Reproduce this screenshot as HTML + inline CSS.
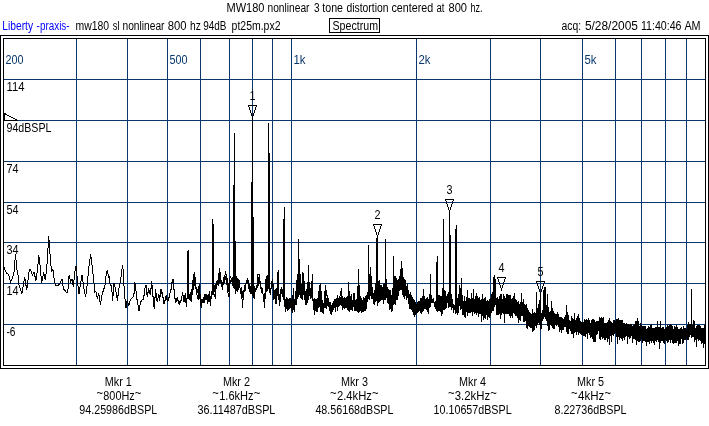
<!DOCTYPE html>
<html><head><meta charset="utf-8"><title>Spectrum</title>
<style>html,body{margin:0;padding:0;background:#fff;}body{width:709px;height:426px;overflow:hidden;position:relative;font-family:"Liberation Sans",sans-serif;}</style>
</head><body>
<svg width="709" height="426" viewBox="0 0 709 426" style="position:absolute;left:0;top:0;display:block;will-change:transform">
<rect x="0" y="0" width="709" height="426" fill="#fff"/>
<g shape-rendering="crispEdges" fill="none" stroke="#000" stroke-width="1">
<rect x="0.5" y="35.5" width="708" height="333"/>
<rect x="3.5" y="38.5" width="702" height="327"/>
</g>
<g shape-rendering="crispEdges" stroke="#0a386c" stroke-width="1">
<line x1="76.5" y1="39" x2="76.5" y2="365"/>
<line x1="127.5" y1="39" x2="127.5" y2="365"/>
<line x1="167.5" y1="39" x2="167.5" y2="365"/>
<line x1="200.5" y1="39" x2="200.5" y2="365"/>
<line x1="229.5" y1="39" x2="229.5" y2="365"/>
<line x1="252.5" y1="39" x2="252.5" y2="365"/>
<line x1="272.5" y1="39" x2="272.5" y2="365"/>
<line x1="291.5" y1="39" x2="291.5" y2="365"/>
<line x1="416.5" y1="39" x2="416.5" y2="365"/>
<line x1="490.5" y1="39" x2="490.5" y2="365"/>
<line x1="540.5" y1="39" x2="540.5" y2="365"/>
<line x1="582.5" y1="39" x2="582.5" y2="365"/>
<line x1="615.5" y1="39" x2="615.5" y2="365"/>
<line x1="641.5" y1="39" x2="641.5" y2="365"/>
<line x1="665.5" y1="39" x2="665.5" y2="365"/>
<line x1="686.5" y1="39" x2="686.5" y2="365"/>
<line x1="4" y1="79.5" x2="705" y2="79.5"/>
<line x1="4" y1="120.5" x2="705" y2="120.5"/>
<line x1="4" y1="161.5" x2="705" y2="161.5"/>
<line x1="4" y1="202.5" x2="705" y2="202.5"/>
<line x1="4" y1="242.5" x2="705" y2="242.5"/>
<line x1="4" y1="283.5" x2="705" y2="283.5"/>
<line x1="4" y1="324.5" x2="705" y2="324.5"/>
</g>
<path d="M4.5,113.5 L4.5,120.5 L17.5,120.5 Z" fill="none" stroke="#000" stroke-width="1" shape-rendering="crispEdges"/>
<g fill="none" stroke="#000" stroke-width="1" shape-rendering="crispEdges" stroke-linejoin="miter">
<path d="M4.0,267.1 L6.3,272.8 L8.5,274.2 L10.6,282.3 L12.0,279.1 L14.1,272.1 L15.5,253.7 L16.9,269.3 L18.3,276.3 L19.0,284.8 L21.9,293.7 L24.7,277.5 L26.8,290.2 L29.3,270.0 L30.3,269.3 L32.4,274.9 L33.9,272.0 L36.0,280.5 L37.4,270.7 L38.8,255.2 L40.2,266.4 L41.6,283.0 L43.7,272.0 L45.4,280.4 L47.2,262.2 L48.7,236.1 L50.1,255.2 L51.5,271.3 L52.9,269.2 L54.3,280.0 L55.7,285.7 L57.8,286.0 L60.0,283.0 L62.0,279.0 L63.5,288.9 L67.0,293.0 L68.4,287.5 L69.1,274.8 L70.5,281.8 L72.0,279.0 L73.3,286.8 L74.8,272.0 L76.2,265.6 L77.4,280.4 L79.0,294.0 L80.4,284.0 L82.1,274.8 L83.4,285.5 L85.6,297.0 L87.2,284.0 L88.9,267.0 L90.7,254.5 L92.4,268.5 L93.8,281.0 L94.8,292.3 L95.9,291.0 L97.3,299.0 L98.7,293.0 L100.4,304.9 L102.1,294.3 L103.5,290.1 L104.9,285.9 L106.3,273.9 L107.4,269.6 L108.4,277.4 L109.1,276.7 L110.2,285.9 L111.6,285.1 L112.6,301.4 L114.0,283.0 L115.5,288.7 L117.6,301.4 L118.3,291.5 L120.4,281.6 L121.8,270.3 L122.8,265.4 L123.9,284.4 L124.9,298.5 L126.0,307.7 L127.2,300.0 L128.8,305.6 L130.3,300.0 L132.4,297.8 L133.8,295.7 L134.9,282.3 L136.2,292.9 L137.3,301.4 L139.0,310.5 L140.4,302.8 L142.2,300.0 L143.7,298.5 L144.6,288.7 L146.1,285.1 L147.2,297.1 L148.6,288.7 L150.3,294.3 L151.7,281.6 L152.8,294.3 L154.2,308.4 L155.6,290.1 L157.1,301.4 L158.8,294.3 L159.6,300.0 L161.0,289.4 L162.4,294.3 L164.1,303.5 L166.2,295.7 L167.6,302.1 L169.0,297.1 L171.2,288.7 L172.3,280.2 L173.3,279.5 L174.3,292.9 L175.4,302.1 L177.5,298.5 L179.3,304.2 L181.0,300.0 L182.7,292.9 L183.9,301.4 L185.3,294.3 L186.4,306.3 L187.2,296.0 L187.5,296.0 L188.5,297.0 L189.2,298.5 L191.3,300.7 L192.0,288.7 L193.5,275.3 L194.6,273.2 L195.6,282.3 L196.3,292.9 L198.4,300.0 L199.1,283.7 L199.8,297.1 L201.2,307.7 L202.6,300.0 L204.0,302.8 L206.2,293.6 L207.6,304.2 L209.0,294.3 L210.4,305.6 L211.8,291.5 L212.5,292.0 L213.9,294.3 L215.3,297.1 L216.7,281.6 L218.1,280.2 L219.6,268.2 L221.0,280.2 L222.4,289.4 L223.8,280.2 L225.6,272.5 L227.0,277.4 L228.0,292.9 L229.0,297.1 L230.1,276.7 L232.2,280.2 L233.2,287.3 L234.5,286.0 L235.8,294.3 L236.9,276.0 L237.9,291.5 L239.0,279.5 L240.3,290.1 L241.4,287.3 L242.5,307.7 L243.5,292.9 L244.9,285.9 L246.4,281.6 L247.8,278.1 L248.8,287.3 L250.6,292.9 L252.5,292.0 L254.1,298.5 L255.5,288.7 L256.9,290.1 L257.6,274.6 L259.0,273.9 L260.5,288.7 L261.9,287.3 L263.3,295.7 L264.7,308.4 L265.7,280.2 L267.1,275.3 L268.0,285.9 L269.0,288.0 L270.3,294.3 L271.7,284.4 L272.7,278.8 L273.9,300.0 L275.3,288.7 L276.7,304.2 L278.1,269.6 L279.2,306.3 L280.9,290.1 L281.4,287.0 L282.8,296.9 L284.0,298.0 L285.6,312.4 L287.1,298.3 L288.5,309.6 L289.9,297.6 L292.0,311.0 L293.4,288.4 L294.4,311.0 L295.5,296.9 L296.9,281.4 L297.6,275.0 L298.5,272.0 L299.9,272.0 L301.2,298.3 L302.6,272.9 L303.7,273.6 L304.7,298.3 L306.1,305.4 L307.5,284.2 L308.5,280.0 L309.6,284.2 L311.0,298.3 L312.4,274.3 L313.1,302.5 L314.6,315.2 L316.0,302.5 L318.1,298.3 L319.5,287.0 L320.6,283.5 L321.6,302.5 L323.7,313.8 L325.4,284.9 L326.5,294.1 L328.0,298.3 L329.4,309.6 L331.5,315.2 L332.9,305.4 L334.7,299.7 L335.7,308.2 L337.5,294.8 L338.5,306.8 L339.9,296.9 L341.4,288.4 L342.8,305.4 L344.2,296.9 L345.6,308.2 L346.3,298.3 L347.4,309.6 L348.7,282.1 L349.8,312.4 L351.2,294.1 L352.6,308.2 L354.0,293.4 L356.2,311.0 L357.6,298.3 L358.6,269.4 L359.7,312.4 L361.1,298.3 L362.5,311.0 L363.2,296.9 L364.6,309.6 L366.3,296.9 L367.7,294.1 L368.5,290.0 L369.2,292.0 L370.3,267.3 L371.7,284.2 L373.1,295.5 L374.2,305.4 L375.2,296.9 L376.0,283.0"/>
<line x1="130.5" y1="299.1" x2="130.5" y2="301.2"/>
<line x1="131.5" y1="297.8" x2="131.5" y2="299.3"/>
<line x1="132.5" y1="296.6" x2="132.5" y2="298.4"/>
<line x1="133.5" y1="293.2" x2="133.5" y2="297.2"/>
<line x1="134.5" y1="282.3" x2="134.5" y2="293.5"/>
<line x1="135.5" y1="283.1" x2="135.5" y2="291.3"/>
<line x1="136.5" y1="291.0" x2="136.5" y2="299.6"/>
<line x1="137.5" y1="299.0" x2="137.5" y2="305.3"/>
<line x1="138.5" y1="304.7" x2="138.5" y2="311.2"/>
<line x1="139.5" y1="304.6" x2="139.5" y2="310.8"/>
<line x1="140.5" y1="301.2" x2="140.5" y2="305.0"/>
<line x1="141.5" y1="299.7" x2="141.5" y2="302.1"/>
<line x1="142.5" y1="299.1" x2="142.5" y2="300.4"/>
<line x1="143.5" y1="295.0" x2="143.5" y2="299.8"/>
<line x1="144.5" y1="287.6" x2="144.5" y2="295.7"/>
<line x1="145.5" y1="284.8" x2="145.5" y2="288.0"/>
<line x1="146.5" y1="284.7" x2="146.5" y2="295.0"/>
<line x1="147.5" y1="292.3" x2="147.5" y2="297.3"/>
<line x1="148.5" y1="288.1" x2="148.5" y2="292.7"/>
<line x1="149.5" y1="289.8" x2="149.5" y2="293.8"/>
<line x1="150.5" y1="287.6" x2="150.5" y2="294.6"/>
<line x1="151.5" y1="280.9" x2="151.5" y2="288.6"/>
<line x1="152.5" y1="284.8" x2="152.5" y2="296.8"/>
<line x1="153.5" y1="295.8" x2="153.5" y2="307.2"/>
<line x1="154.5" y1="297.3" x2="154.5" y2="308.7"/>
<line x1="155.5" y1="289.2" x2="155.5" y2="298.1"/>
<line x1="156.5" y1="292.7" x2="156.5" y2="301.4"/>
<line x1="157.5" y1="297.5" x2="157.5" y2="301.9"/>
<line x1="158.5" y1="294.3" x2="158.5" y2="298.3"/>
<line x1="159.5" y1="295.0" x2="159.5" y2="300.6"/>
<line x1="160.5" y1="288.5" x2="160.5" y2="297.3"/>
<line x1="161.5" y1="288.7" x2="161.5" y2="293.5"/>
<line x1="162.5" y1="292.3" x2="162.5" y2="298.0"/>
<line x1="163.5" y1="296.7" x2="163.5" y2="303.9"/>
<line x1="164.5" y1="299.7" x2="164.5" y2="304.2"/>
<line x1="165.5" y1="296.4" x2="165.5" y2="300.9"/>
<line x1="166.5" y1="295.0" x2="166.5" y2="300.4"/>
<line x1="167.5" y1="298.5" x2="167.5" y2="302.4"/>
<line x1="168.5" y1="296.7" x2="168.5" y2="301.4"/>
<line x1="169.5" y1="293.3" x2="169.5" y2="297.6"/>
<line x1="170.5" y1="289.3" x2="170.5" y2="293.4"/>
<line x1="171.5" y1="282.5" x2="171.5" y2="290.3"/>
<line x1="172.5" y1="279.6" x2="172.5" y2="282.8"/>
<line x1="173.5" y1="279.0" x2="173.5" y2="289.9"/>
<line x1="174.5" y1="288.8" x2="174.5" y2="299.3"/>
<line x1="175.5" y1="298.1" x2="175.5" y2="303.1"/>
<line x1="176.5" y1="298.4" x2="176.5" y2="302.1"/>
<line x1="177.5" y1="298.2" x2="177.5" y2="300.6"/>
<line x1="178.5" y1="299.6" x2="178.5" y2="304.3"/>
<line x1="179.5" y1="301.3" x2="179.5" y2="304.4"/>
<line x1="180.5" y1="299.8" x2="180.5" y2="302.8"/>
<line x1="181.5" y1="295.5" x2="181.5" y2="300.6"/>
<line x1="182.5" y1="292.2" x2="182.5" y2="296.2"/>
<line x1="183.5" y1="295.0" x2="183.5" y2="301.9"/>
<line x1="184.5" y1="295.3" x2="184.5" y2="301.6"/>
<line x1="185.5" y1="293.1" x2="185.5" y2="302.8"/>
<line x1="186.5" y1="297.9" x2="186.5" y2="307.1"/>
<line x1="187.5" y1="295.1" x2="187.5" y2="298.6"/>
<line x1="188.5" y1="295.3" x2="188.5" y2="299.1"/>
<line x1="189.5" y1="293.8" x2="189.5" y2="298.3"/>
<line x1="190.5" y1="291.8" x2="190.5" y2="300.8"/>
<line x1="191.5" y1="291.1" x2="191.5" y2="300.0"/>
<line x1="192.5" y1="286.2" x2="192.5" y2="294.8"/>
<line x1="193.5" y1="280.0" x2="193.5" y2="289.9"/>
<line x1="194.5" y1="275.6" x2="194.5" y2="285.9"/>
<line x1="195.5" y1="281.4" x2="195.5" y2="288.5"/>
<line x1="196.5" y1="286.8" x2="196.5" y2="294.8"/>
<line x1="197.5" y1="288.6" x2="197.5" y2="293.3"/>
<line x1="198.5" y1="289.1" x2="198.5" y2="300.0"/>
<line x1="199.5" y1="293.3" x2="199.5" y2="295.3"/>
<line x1="200.5" y1="293.9" x2="200.5" y2="298.8"/>
<line x1="201.5" y1="298.8" x2="201.5" y2="306.4"/>
<line x1="202.5" y1="301.3" x2="202.5" y2="303.3"/>
<line x1="203.5" y1="297.1" x2="203.5" y2="302.2"/>
<line x1="204.5" y1="294.4" x2="204.5" y2="302.0"/>
<line x1="205.5" y1="297.6" x2="205.5" y2="299.9"/>
<line x1="206.5" y1="297.4" x2="206.5" y2="300.2"/>
<line x1="207.5" y1="295.0" x2="207.5" y2="302.7"/>
<line x1="208.5" y1="298.2" x2="208.5" y2="302.0"/>
<line x1="209.5" y1="290.9" x2="209.5" y2="300.4"/>
<line x1="210.5" y1="295.7" x2="210.5" y2="300.8"/>
<line x1="211.5" y1="292.6" x2="211.5" y2="297.2"/>
<line x1="212.5" y1="290.8" x2="212.5" y2="293.3"/>
<line x1="213.5" y1="287.2" x2="213.5" y2="295.4"/>
<line x1="214.5" y1="285.0" x2="214.5" y2="291.7"/>
<line x1="215.5" y1="284.1" x2="215.5" y2="292.1"/>
<line x1="216.5" y1="286.5" x2="216.5" y2="289.1"/>
<line x1="217.5" y1="280.1" x2="217.5" y2="285.0"/>
<line x1="218.5" y1="276.7" x2="218.5" y2="286.3"/>
<line x1="219.5" y1="270.7" x2="219.5" y2="281.6"/>
<line x1="220.5" y1="272.5" x2="220.5" y2="282.6"/>
<line x1="221.5" y1="280.6" x2="221.5" y2="283.9"/>
<line x1="222.5" y1="281.6" x2="222.5" y2="289.6"/>
<line x1="223.5" y1="277.1" x2="223.5" y2="283.5"/>
<line x1="224.5" y1="279.1" x2="224.5" y2="283.0"/>
<line x1="225.5" y1="275.8" x2="225.5" y2="280.2"/>
<line x1="226.5" y1="274.6" x2="226.5" y2="284.6"/>
<line x1="227.5" y1="279.1" x2="227.5" y2="284.6"/>
<line x1="228.5" y1="283.3" x2="228.5" y2="291.9"/>
<line x1="229.5" y1="280.8" x2="229.5" y2="287.5"/>
<line x1="230.5" y1="279.9" x2="230.5" y2="282.6"/>
<line x1="231.5" y1="278.8" x2="231.5" y2="282.1"/>
<line x1="232.5" y1="276.8" x2="232.5" y2="285.2"/>
<line x1="233.5" y1="276.9" x2="233.5" y2="284.3"/>
<line x1="234.5" y1="277.4" x2="234.5" y2="284.4"/>
<line x1="235.5" y1="282.8" x2="235.5" y2="284.8"/>
<line x1="236.5" y1="280.6" x2="236.5" y2="289.5"/>
<line x1="237.5" y1="282.7" x2="237.5" y2="288.9"/>
<line x1="238.5" y1="281.1" x2="238.5" y2="287.1"/>
<line x1="239.5" y1="283.5" x2="239.5" y2="288.3"/>
<line x1="240.5" y1="288.4" x2="240.5" y2="293.7"/>
<line x1="241.5" y1="291.5" x2="241.5" y2="293.5"/>
<line x1="242.5" y1="291.3" x2="242.5" y2="298.4"/>
<line x1="243.5" y1="293.2" x2="243.5" y2="297.8"/>
<line x1="244.5" y1="287.7" x2="244.5" y2="291.7"/>
<line x1="245.5" y1="282.8" x2="245.5" y2="290.5"/>
<line x1="246.5" y1="279.5" x2="246.5" y2="283.8"/>
<line x1="247.5" y1="279.4" x2="247.5" y2="284.2"/>
<line x1="248.5" y1="283.0" x2="248.5" y2="288.8"/>
<line x1="249.5" y1="284.4" x2="249.5" y2="291.7"/>
<line x1="250.5" y1="285.9" x2="250.5" y2="293.6"/>
<line x1="251.5" y1="286.9" x2="251.5" y2="294.1"/>
<line x1="252.5" y1="287.9" x2="252.5" y2="295.9"/>
<line x1="253.5" y1="286.6" x2="253.5" y2="298.1"/>
<line x1="254.5" y1="285.8" x2="254.5" y2="294.6"/>
<line x1="255.5" y1="288.5" x2="255.5" y2="292.3"/>
<line x1="256.5" y1="285.3" x2="256.5" y2="289.7"/>
<line x1="257.5" y1="279.1" x2="257.5" y2="285.2"/>
<line x1="258.5" y1="276.8" x2="258.5" y2="286.1"/>
<line x1="259.5" y1="274.3" x2="259.5" y2="282.3"/>
<line x1="260.5" y1="280.5" x2="260.5" y2="285.9"/>
<line x1="261.5" y1="288.1" x2="261.5" y2="292.5"/>
<line x1="262.5" y1="288.6" x2="262.5" y2="293.5"/>
<line x1="263.5" y1="294.5" x2="263.5" y2="298.0"/>
<line x1="264.5" y1="293.4" x2="264.5" y2="304.9"/>
<line x1="265.5" y1="286.2" x2="265.5" y2="295.6"/>
<line x1="266.5" y1="277.2" x2="266.5" y2="291.5"/>
<line x1="267.5" y1="275.5" x2="267.5" y2="291.2"/>
<line x1="268.5" y1="280.1" x2="268.5" y2="288.2"/>
<line x1="269.5" y1="283.5" x2="269.5" y2="288.2"/>
<line x1="270.5" y1="287.7" x2="270.5" y2="295.0"/>
<line x1="271.5" y1="281.0" x2="271.5" y2="289.4"/>
<line x1="272.5" y1="282.2" x2="272.5" y2="286.6"/>
<line x1="273.5" y1="285.4" x2="273.5" y2="291.7"/>
<line x1="274.5" y1="290.4" x2="274.5" y2="296.6"/>
<line x1="275.5" y1="289.3" x2="275.5" y2="303.8"/>
<line x1="276.5" y1="288.1" x2="276.5" y2="297.7"/>
<line x1="277.5" y1="288.4" x2="277.5" y2="295.1"/>
<line x1="278.5" y1="287.0" x2="278.5" y2="294.4"/>
<line x1="279.5" y1="293.8" x2="279.5" y2="305.5"/>
<line x1="280.5" y1="288.6" x2="280.5" y2="301.6"/>
<line x1="281.5" y1="290.5" x2="281.5" y2="294.3"/>
<line x1="282.5" y1="289.0" x2="282.5" y2="295.9"/>
<line x1="283.5" y1="292.6" x2="283.5" y2="300.2"/>
<line x1="284.5" y1="299.6" x2="284.5" y2="305.8"/>
<line x1="285.5" y1="298.7" x2="285.5" y2="308.6"/>
<line x1="286.5" y1="296.6" x2="286.5" y2="309.2"/>
<line x1="287.5" y1="299.0" x2="287.5" y2="310.7"/>
<line x1="288.5" y1="298.9" x2="288.5" y2="307.7"/>
<line x1="289.5" y1="298.2" x2="289.5" y2="309.1"/>
<line x1="290.5" y1="297.9" x2="290.5" y2="307.6"/>
<line x1="291.5" y1="299.4" x2="291.5" y2="308.4"/>
<line x1="292.5" y1="299.5" x2="292.5" y2="312.6"/>
<line x1="293.5" y1="288.7" x2="293.5" y2="310.0"/>
<line x1="294.5" y1="298.7" x2="294.5" y2="312.4"/>
<line x1="295.5" y1="297.2" x2="295.5" y2="304.9"/>
<line x1="296.5" y1="285.2" x2="296.5" y2="305.0"/>
<line x1="297.5" y1="275.3" x2="297.5" y2="299.4"/>
<line x1="298.5" y1="269.1" x2="298.5" y2="297.4"/>
<line x1="299.5" y1="273.7" x2="299.5" y2="295.4"/>
<line x1="300.5" y1="279.8" x2="300.5" y2="297.5"/>
<line x1="301.5" y1="283.9" x2="301.5" y2="298.7"/>
<line x1="302.5" y1="272.9" x2="302.5" y2="299.7"/>
<line x1="303.5" y1="274.0" x2="303.5" y2="294.9"/>
<line x1="304.5" y1="282.9" x2="304.5" y2="297.5"/>
<line x1="305.5" y1="290.6" x2="305.5" y2="300.5"/>
<line x1="306.5" y1="288.8" x2="306.5" y2="302.7"/>
<line x1="307.5" y1="284.0" x2="307.5" y2="302.5"/>
<line x1="308.5" y1="266.7" x2="308.5" y2="300.3"/>
<line x1="309.5" y1="285.2" x2="309.5" y2="296.3"/>
<line x1="310.5" y1="290.1" x2="310.5" y2="299.0"/>
<line x1="311.5" y1="289.3" x2="311.5" y2="297.8"/>
<line x1="312.5" y1="277.4" x2="312.5" y2="301.0"/>
<line x1="313.5" y1="299.5" x2="313.5" y2="306.7"/>
<line x1="314.5" y1="298.1" x2="314.5" y2="313.3"/>
<line x1="315.5" y1="299.0" x2="315.5" y2="309.3"/>
<line x1="316.5" y1="298.5" x2="316.5" y2="311.9"/>
<line x1="317.5" y1="298.4" x2="317.5" y2="311.9"/>
<line x1="318.5" y1="297.2" x2="318.5" y2="307.9"/>
<line x1="319.5" y1="287.5" x2="319.5" y2="307.2"/>
<line x1="320.5" y1="283.8" x2="320.5" y2="311.7"/>
<line x1="321.5" y1="299.5" x2="321.5" y2="311.5"/>
<line x1="322.5" y1="300.1" x2="322.5" y2="312.9"/>
<line x1="323.5" y1="302.9" x2="323.5" y2="312.9"/>
<line x1="324.5" y1="299.7" x2="324.5" y2="308.3"/>
<line x1="325.5" y1="288.5" x2="325.5" y2="308.0"/>
<line x1="326.5" y1="297.5" x2="326.5" y2="309.0"/>
<line x1="327.5" y1="297.2" x2="327.5" y2="305.8"/>
<line x1="328.5" y1="301.8" x2="328.5" y2="307.3"/>
<line x1="329.5" y1="302.4" x2="329.5" y2="310.5"/>
<line x1="330.5" y1="302.2" x2="330.5" y2="314.2"/>
<line x1="331.5" y1="305.4" x2="331.5" y2="313.1"/>
<line x1="332.5" y1="302.7" x2="332.5" y2="310.4"/>
<line x1="333.5" y1="301.3" x2="333.5" y2="309.5"/>
<line x1="334.5" y1="299.0" x2="334.5" y2="307.8"/>
<line x1="335.5" y1="299.3" x2="335.5" y2="311.6"/>
<line x1="336.5" y1="299.3" x2="336.5" y2="307.4"/>
<line x1="337.5" y1="296.9" x2="337.5" y2="311.3"/>
<line x1="338.5" y1="298.2" x2="338.5" y2="306.3"/>
<line x1="339.5" y1="296.9" x2="339.5" y2="305.7"/>
<line x1="340.5" y1="297.1" x2="340.5" y2="305.3"/>
<line x1="341.5" y1="289.6" x2="341.5" y2="306.0"/>
<line x1="342.5" y1="297.9" x2="342.5" y2="310.2"/>
<line x1="343.5" y1="298.8" x2="343.5" y2="307.9"/>
<line x1="344.5" y1="297.8" x2="344.5" y2="308.7"/>
<line x1="345.5" y1="298.0" x2="345.5" y2="307.8"/>
<line x1="346.5" y1="296.9" x2="346.5" y2="308.0"/>
<line x1="347.5" y1="299.8" x2="347.5" y2="307.8"/>
<line x1="348.5" y1="288.6" x2="348.5" y2="311.3"/>
<line x1="349.5" y1="298.8" x2="349.5" y2="309.9"/>
<line x1="350.5" y1="295.9" x2="350.5" y2="309.7"/>
<line x1="351.5" y1="296.4" x2="351.5" y2="309.9"/>
<line x1="352.5" y1="299.7" x2="352.5" y2="311.3"/>
<line x1="353.5" y1="299.0" x2="353.5" y2="307.0"/>
<line x1="354.5" y1="295.6" x2="354.5" y2="311.3"/>
<line x1="355.5" y1="299.7" x2="355.5" y2="310.5"/>
<line x1="356.5" y1="298.9" x2="356.5" y2="308.0"/>
<line x1="357.5" y1="298.3" x2="357.5" y2="312.4"/>
<line x1="358.5" y1="276.1" x2="358.5" y2="312.7"/>
<line x1="359.5" y1="297.2" x2="359.5" y2="311.5"/>
<line x1="360.5" y1="295.9" x2="360.5" y2="310.6"/>
<line x1="361.5" y1="298.7" x2="361.5" y2="312.6"/>
<line x1="362.5" y1="300.0" x2="362.5" y2="312.0"/>
<line x1="363.5" y1="298.5" x2="363.5" y2="312.0"/>
<line x1="364.5" y1="297.6" x2="364.5" y2="310.6"/>
<line x1="365.5" y1="295.8" x2="365.5" y2="310.5"/>
<line x1="366.5" y1="296.0" x2="366.5" y2="308.9"/>
<line x1="367.5" y1="295.6" x2="367.5" y2="302.2"/>
<line x1="368.5" y1="284.0" x2="368.5" y2="299.2"/>
<line x1="369.5" y1="281.2" x2="369.5" y2="299.8"/>
<line x1="370.5" y1="268.7" x2="370.5" y2="295.4"/>
<line x1="371.5" y1="282.4" x2="371.5" y2="298.9"/>
<line x1="372.5" y1="288.7" x2="372.5" y2="299.2"/>
<line x1="373.5" y1="292.5" x2="373.5" y2="300.3"/>
<line x1="374.5" y1="290.4" x2="374.5" y2="303.5"/>
<line x1="375.5" y1="289.7" x2="375.5" y2="301.5"/>
<line x1="376.5" y1="285.0" x2="376.5" y2="300.9"/>
<line x1="377.5" y1="284.3" x2="377.5" y2="306.0"/>
<line x1="378.5" y1="281.0" x2="378.5" y2="302.6"/>
<line x1="379.5" y1="280.3" x2="379.5" y2="301.6"/>
<line x1="380.5" y1="284.6" x2="380.5" y2="300.5"/>
<line x1="381.5" y1="285.3" x2="381.5" y2="300.0"/>
<line x1="382.5" y1="286.7" x2="382.5" y2="300.2"/>
<line x1="383.5" y1="284.1" x2="383.5" y2="303.5"/>
<line x1="384.5" y1="283.3" x2="384.5" y2="300.3"/>
<line x1="385.5" y1="282.4" x2="385.5" y2="299.7"/>
<line x1="386.5" y1="279.4" x2="386.5" y2="297.5"/>
<line x1="387.5" y1="287.2" x2="387.5" y2="302.7"/>
<line x1="388.5" y1="289.2" x2="388.5" y2="303.9"/>
<line x1="389.5" y1="290.3" x2="389.5" y2="309.5"/>
<line x1="390.5" y1="289.9" x2="390.5" y2="309.4"/>
<line x1="391.5" y1="295.3" x2="391.5" y2="311.6"/>
<line x1="392.5" y1="287.5" x2="392.5" y2="311.1"/>
<line x1="393.5" y1="280.9" x2="393.5" y2="305.4"/>
<line x1="394.5" y1="276.4" x2="394.5" y2="303.6"/>
<line x1="395.5" y1="276.3" x2="395.5" y2="304.7"/>
<line x1="396.5" y1="277.8" x2="396.5" y2="299.5"/>
<line x1="397.5" y1="280.2" x2="397.5" y2="299.8"/>
<line x1="398.5" y1="278.8" x2="398.5" y2="295.5"/>
<line x1="399.5" y1="276.3" x2="399.5" y2="290.8"/>
<line x1="400.5" y1="269.2" x2="400.5" y2="289.5"/>
<line x1="401.5" y1="261.4" x2="401.5" y2="290.1"/>
<line x1="402.5" y1="268.3" x2="402.5" y2="295.3"/>
<line x1="403.5" y1="277.1" x2="403.5" y2="296.8"/>
<line x1="404.5" y1="278.5" x2="404.5" y2="299.2"/>
<line x1="405.5" y1="279.9" x2="405.5" y2="296.1"/>
<line x1="406.5" y1="286.3" x2="406.5" y2="299.7"/>
<line x1="407.5" y1="284.4" x2="407.5" y2="298.2"/>
<line x1="408.5" y1="290.0" x2="408.5" y2="304.4"/>
<line x1="409.5" y1="293.7" x2="409.5" y2="309.2"/>
<line x1="410.5" y1="292.4" x2="410.5" y2="308.7"/>
<line x1="411.5" y1="295.2" x2="411.5" y2="309.9"/>
<line x1="412.5" y1="296.6" x2="412.5" y2="311.5"/>
<line x1="413.5" y1="298.9" x2="413.5" y2="315.0"/>
<line x1="414.5" y1="300.2" x2="414.5" y2="317.0"/>
<line x1="415.5" y1="301.5" x2="415.5" y2="315.4"/>
<line x1="416.5" y1="303.5" x2="416.5" y2="313.7"/>
<line x1="417.5" y1="302.2" x2="417.5" y2="312.7"/>
<line x1="418.5" y1="300.9" x2="418.5" y2="311.6"/>
<line x1="419.5" y1="301.3" x2="419.5" y2="310.5"/>
<line x1="420.5" y1="298.0" x2="420.5" y2="312.5"/>
<line x1="421.5" y1="297.7" x2="421.5" y2="313.7"/>
<line x1="422.5" y1="295.7" x2="422.5" y2="311.7"/>
<line x1="423.5" y1="291.6" x2="423.5" y2="310.5"/>
<line x1="424.5" y1="295.5" x2="424.5" y2="309.4"/>
<line x1="425.5" y1="298.6" x2="425.5" y2="308.8"/>
<line x1="426.5" y1="297.6" x2="426.5" y2="309.9"/>
<line x1="427.5" y1="296.7" x2="427.5" y2="312.3"/>
<line x1="428.5" y1="298.7" x2="428.5" y2="314.0"/>
<line x1="429.5" y1="293.8" x2="429.5" y2="308.0"/>
<line x1="430.5" y1="284.7" x2="430.5" y2="307.0"/>
<line x1="431.5" y1="294.9" x2="431.5" y2="303.1"/>
<line x1="432.5" y1="298.8" x2="432.5" y2="302.8"/>
<line x1="433.5" y1="298.3" x2="433.5" y2="302.7"/>
<line x1="434.5" y1="302.2" x2="434.5" y2="306.5"/>
<line x1="435.5" y1="301.0" x2="435.5" y2="309.2"/>
<line x1="436.5" y1="293.4" x2="436.5" y2="311.1"/>
<line x1="437.5" y1="296.3" x2="437.5" y2="312.2"/>
<line x1="438.5" y1="295.2" x2="438.5" y2="310.7"/>
<line x1="439.5" y1="294.7" x2="439.5" y2="310.9"/>
<line x1="440.5" y1="295.8" x2="440.5" y2="312.4"/>
<line x1="441.5" y1="296.4" x2="441.5" y2="315.5"/>
<line x1="442.5" y1="287.8" x2="442.5" y2="313.9"/>
<line x1="443.5" y1="290.8" x2="443.5" y2="309.9"/>
<line x1="444.5" y1="289.9" x2="444.5" y2="310.3"/>
<line x1="445.5" y1="291.4" x2="445.5" y2="308.8"/>
<line x1="446.5" y1="295.9" x2="446.5" y2="308.1"/>
<line x1="447.5" y1="293.6" x2="447.5" y2="303.3"/>
<line x1="448.5" y1="291.8" x2="448.5" y2="308.1"/>
<line x1="449.5" y1="292.5" x2="449.5" y2="307.2"/>
<line x1="450.5" y1="293.1" x2="450.5" y2="307.0"/>
<line x1="451.5" y1="294.2" x2="451.5" y2="309.8"/>
<line x1="452.5" y1="299.4" x2="452.5" y2="307.7"/>
<line x1="453.5" y1="303.6" x2="453.5" y2="312.8"/>
<line x1="454.5" y1="304.6" x2="454.5" y2="309.6"/>
<line x1="455.5" y1="299.8" x2="455.5" y2="314.2"/>
<line x1="456.5" y1="298.5" x2="456.5" y2="312.8"/>
<line x1="457.5" y1="297.8" x2="457.5" y2="315.3"/>
<line x1="458.5" y1="293.7" x2="458.5" y2="312.7"/>
<line x1="459.5" y1="284.9" x2="459.5" y2="305.9"/>
<line x1="460.5" y1="288.0" x2="460.5" y2="309.5"/>
<line x1="461.5" y1="279.9" x2="461.5" y2="308.8"/>
<line x1="462.5" y1="294.8" x2="462.5" y2="315.4"/>
<line x1="463.5" y1="300.8" x2="463.5" y2="314.8"/>
<line x1="464.5" y1="296.0" x2="464.5" y2="316.7"/>
<line x1="465.5" y1="301.4" x2="465.5" y2="317.5"/>
<line x1="466.5" y1="297.0" x2="466.5" y2="311.9"/>
<line x1="467.5" y1="291.6" x2="467.5" y2="315.9"/>
<line x1="468.5" y1="298.1" x2="468.5" y2="313.1"/>
<line x1="469.5" y1="298.4" x2="469.5" y2="313.1"/>
<line x1="470.5" y1="299.0" x2="470.5" y2="313.0"/>
<line x1="471.5" y1="293.0" x2="471.5" y2="311.7"/>
<line x1="472.5" y1="297.9" x2="472.5" y2="316.2"/>
<line x1="473.5" y1="289.5" x2="473.5" y2="312.2"/>
<line x1="474.5" y1="299.2" x2="474.5" y2="313.8"/>
<line x1="475.5" y1="296.0" x2="475.5" y2="313.2"/>
<line x1="476.5" y1="292.9" x2="476.5" y2="315.4"/>
<line x1="477.5" y1="295.8" x2="477.5" y2="313.2"/>
<line x1="478.5" y1="298.2" x2="478.5" y2="316.8"/>
<line x1="479.5" y1="297.4" x2="479.5" y2="313.5"/>
<line x1="480.5" y1="299.9" x2="480.5" y2="313.8"/>
<line x1="481.5" y1="298.8" x2="481.5" y2="322.2"/>
<line x1="482.5" y1="294.1" x2="482.5" y2="315.7"/>
<line x1="483.5" y1="298.5" x2="483.5" y2="319.7"/>
<line x1="484.5" y1="297.8" x2="484.5" y2="317.9"/>
<line x1="485.5" y1="297.2" x2="485.5" y2="318.5"/>
<line x1="486.5" y1="300.6" x2="486.5" y2="315.1"/>
<line x1="487.5" y1="300.2" x2="487.5" y2="319.7"/>
<line x1="488.5" y1="300.5" x2="488.5" y2="316.6"/>
<line x1="489.5" y1="299.0" x2="489.5" y2="317.5"/>
<line x1="490.5" y1="298.1" x2="490.5" y2="316.2"/>
<line x1="491.5" y1="294.0" x2="491.5" y2="313.1"/>
<line x1="492.5" y1="292.4" x2="492.5" y2="311.2"/>
<line x1="493.5" y1="277.2" x2="493.5" y2="310.7"/>
<line x1="494.5" y1="274.5" x2="494.5" y2="307.0"/>
<line x1="495.5" y1="285.6" x2="495.5" y2="304.6"/>
<line x1="496.5" y1="298.2" x2="496.5" y2="315.0"/>
<line x1="497.5" y1="297.1" x2="497.5" y2="315.3"/>
<line x1="498.5" y1="298.8" x2="498.5" y2="315.1"/>
<line x1="499.5" y1="296.1" x2="499.5" y2="314.4"/>
<line x1="500.5" y1="293.9" x2="500.5" y2="318.9"/>
<line x1="501.5" y1="294.3" x2="501.5" y2="314.6"/>
<line x1="502.5" y1="299.1" x2="502.5" y2="312.5"/>
<line x1="503.5" y1="294.4" x2="503.5" y2="314.1"/>
<line x1="504.5" y1="295.6" x2="504.5" y2="323.0"/>
<line x1="505.5" y1="297.9" x2="505.5" y2="313.5"/>
<line x1="506.5" y1="294.0" x2="506.5" y2="313.5"/>
<line x1="507.5" y1="294.0" x2="507.5" y2="314.0"/>
<line x1="508.5" y1="294.8" x2="508.5" y2="313.6"/>
<line x1="509.5" y1="295.2" x2="509.5" y2="316.0"/>
<line x1="510.5" y1="294.6" x2="510.5" y2="317.8"/>
<line x1="511.5" y1="298.6" x2="511.5" y2="315.5"/>
<line x1="512.5" y1="297.8" x2="512.5" y2="317.9"/>
<line x1="513.5" y1="296.1" x2="513.5" y2="312.9"/>
<line x1="514.5" y1="293.3" x2="514.5" y2="314.4"/>
<line x1="515.5" y1="298.6" x2="515.5" y2="316.2"/>
<line x1="516.5" y1="300.4" x2="516.5" y2="316.0"/>
<line x1="517.5" y1="302.2" x2="517.5" y2="318.1"/>
<line x1="518.5" y1="301.2" x2="518.5" y2="322.9"/>
<line x1="519.5" y1="304.0" x2="519.5" y2="319.7"/>
<line x1="520.5" y1="301.8" x2="520.5" y2="320.5"/>
<line x1="521.5" y1="293.1" x2="521.5" y2="315.6"/>
<line x1="522.5" y1="301.5" x2="522.5" y2="316.4"/>
<line x1="523.5" y1="299.3" x2="523.5" y2="321.8"/>
<line x1="524.5" y1="303.6" x2="524.5" y2="322.3"/>
<line x1="525.5" y1="304.9" x2="525.5" y2="320.7"/>
<line x1="526.5" y1="304.2" x2="526.5" y2="327.5"/>
<line x1="527.5" y1="308.3" x2="527.5" y2="328.5"/>
<line x1="528.5" y1="309.8" x2="528.5" y2="326.0"/>
<line x1="529.5" y1="311.8" x2="529.5" y2="326.5"/>
<line x1="530.5" y1="313.0" x2="530.5" y2="328.1"/>
<line x1="531.5" y1="313.8" x2="531.5" y2="328.4"/>
<line x1="532.5" y1="308.9" x2="532.5" y2="332.1"/>
<line x1="533.5" y1="313.2" x2="533.5" y2="331.1"/>
<line x1="534.5" y1="312.0" x2="534.5" y2="329.8"/>
<line x1="535.5" y1="313.2" x2="535.5" y2="325.7"/>
<line x1="536.5" y1="291.7" x2="536.5" y2="327.8"/>
<line x1="537.5" y1="307.7" x2="537.5" y2="324.7"/>
<line x1="538.5" y1="303.8" x2="538.5" y2="323.1"/>
<line x1="539.5" y1="300.3" x2="539.5" y2="324.9"/>
<line x1="540.5" y1="294.8" x2="540.5" y2="330.0"/>
<line x1="541.5" y1="312.8" x2="541.5" y2="328.6"/>
<line x1="542.5" y1="309.6" x2="542.5" y2="320.5"/>
<line x1="543.5" y1="298.1" x2="543.5" y2="319.3"/>
<line x1="544.5" y1="286.6" x2="544.5" y2="317.1"/>
<line x1="545.5" y1="289.2" x2="545.5" y2="319.4"/>
<line x1="546.5" y1="304.8" x2="546.5" y2="321.3"/>
<line x1="547.5" y1="295.6" x2="547.5" y2="326.4"/>
<line x1="548.5" y1="307.0" x2="548.5" y2="330.6"/>
<line x1="549.5" y1="311.7" x2="549.5" y2="330.3"/>
<line x1="550.5" y1="310.5" x2="550.5" y2="325.4"/>
<line x1="551.5" y1="302.8" x2="551.5" y2="326.3"/>
<line x1="552.5" y1="308.1" x2="552.5" y2="327.9"/>
<line x1="553.5" y1="311.1" x2="553.5" y2="328.8"/>
<line x1="554.5" y1="312.9" x2="554.5" y2="329.0"/>
<line x1="555.5" y1="313.8" x2="555.5" y2="325.3"/>
<line x1="556.5" y1="314.3" x2="556.5" y2="325.7"/>
<line x1="557.5" y1="312.3" x2="557.5" y2="325.1"/>
<line x1="558.5" y1="314.1" x2="558.5" y2="327.2"/>
<line x1="559.5" y1="316.5" x2="559.5" y2="331.7"/>
<line x1="560.5" y1="316.6" x2="560.5" y2="330.4"/>
<line x1="561.5" y1="316.5" x2="561.5" y2="332.5"/>
<line x1="562.5" y1="317.5" x2="562.5" y2="329.5"/>
<line x1="563.5" y1="318.6" x2="563.5" y2="329.7"/>
<line x1="564.5" y1="316.7" x2="564.5" y2="327.4"/>
<line x1="565.5" y1="314.8" x2="565.5" y2="327.1"/>
<line x1="566.5" y1="305.2" x2="566.5" y2="332.2"/>
<line x1="567.5" y1="312.1" x2="567.5" y2="334.3"/>
<line x1="568.5" y1="315.2" x2="568.5" y2="333.7"/>
<line x1="569.5" y1="319.8" x2="569.5" y2="328.6"/>
<line x1="570.5" y1="320.9" x2="570.5" y2="330.6"/>
<line x1="571.5" y1="315.5" x2="571.5" y2="333.8"/>
<line x1="572.5" y1="317.9" x2="572.5" y2="334.1"/>
<line x1="573.5" y1="318.5" x2="573.5" y2="338.4"/>
<line x1="574.5" y1="312.9" x2="574.5" y2="332.8"/>
<line x1="575.5" y1="320.2" x2="575.5" y2="332.1"/>
<line x1="576.5" y1="318.3" x2="576.5" y2="335.2"/>
<line x1="577.5" y1="315.5" x2="577.5" y2="332.1"/>
<line x1="578.5" y1="314.1" x2="578.5" y2="334.6"/>
<line x1="579.5" y1="317.5" x2="579.5" y2="333.2"/>
<line x1="580.5" y1="320.7" x2="580.5" y2="334.0"/>
<line x1="581.5" y1="322.3" x2="581.5" y2="335.1"/>
<line x1="582.5" y1="322.1" x2="582.5" y2="335.0"/>
<line x1="583.5" y1="321.8" x2="583.5" y2="336.4"/>
<line x1="584.5" y1="318.7" x2="584.5" y2="336.1"/>
<line x1="585.5" y1="320.0" x2="585.5" y2="336.5"/>
<line x1="586.5" y1="319.2" x2="586.5" y2="334.0"/>
<line x1="587.5" y1="319.6" x2="587.5" y2="339.1"/>
<line x1="588.5" y1="317.9" x2="588.5" y2="333.4"/>
<line x1="589.5" y1="319.9" x2="589.5" y2="335.2"/>
<line x1="590.5" y1="323.0" x2="590.5" y2="338.2"/>
<line x1="591.5" y1="319.7" x2="591.5" y2="337.0"/>
<line x1="592.5" y1="319.4" x2="592.5" y2="338.5"/>
<line x1="593.5" y1="319.4" x2="593.5" y2="342.2"/>
<line x1="594.5" y1="319.8" x2="594.5" y2="341.8"/>
<line x1="595.5" y1="321.5" x2="595.5" y2="342.2"/>
<line x1="596.5" y1="321.2" x2="596.5" y2="334.8"/>
<line x1="597.5" y1="320.5" x2="597.5" y2="334.1"/>
<line x1="598.5" y1="320.7" x2="598.5" y2="330.8"/>
<line x1="599.5" y1="316.7" x2="599.5" y2="339.0"/>
<line x1="600.5" y1="317.6" x2="600.5" y2="339.5"/>
<line x1="601.5" y1="317.4" x2="601.5" y2="337.4"/>
<line x1="602.5" y1="318.2" x2="602.5" y2="338.9"/>
<line x1="603.5" y1="316.5" x2="603.5" y2="338.0"/>
<line x1="604.5" y1="323.0" x2="604.5" y2="339.7"/>
<line x1="605.5" y1="323.2" x2="605.5" y2="340.2"/>
<line x1="606.5" y1="322.5" x2="606.5" y2="338.3"/>
<line x1="607.5" y1="321.9" x2="607.5" y2="342.3"/>
<line x1="608.5" y1="319.7" x2="608.5" y2="338.9"/>
<line x1="609.5" y1="317.8" x2="609.5" y2="344.7"/>
<line x1="610.5" y1="320.6" x2="610.5" y2="336.1"/>
<line x1="611.5" y1="322.1" x2="611.5" y2="342.0"/>
<line x1="612.5" y1="323.0" x2="612.5" y2="334.7"/>
<line x1="613.5" y1="320.3" x2="613.5" y2="336.0"/>
<line x1="614.5" y1="320.0" x2="614.5" y2="333.6"/>
<line x1="615.5" y1="320.6" x2="615.5" y2="333.2"/>
<line x1="616.5" y1="318.5" x2="616.5" y2="337.1"/>
<line x1="617.5" y1="318.8" x2="617.5" y2="343.9"/>
<line x1="618.5" y1="317.5" x2="618.5" y2="336.9"/>
<line x1="619.5" y1="320.4" x2="619.5" y2="339.6"/>
<line x1="620.5" y1="320.2" x2="620.5" y2="337.9"/>
<line x1="621.5" y1="320.0" x2="621.5" y2="339.0"/>
<line x1="622.5" y1="319.8" x2="622.5" y2="340.7"/>
<line x1="623.5" y1="322.6" x2="623.5" y2="337.8"/>
<line x1="624.5" y1="323.2" x2="624.5" y2="339.7"/>
<line x1="625.5" y1="324.4" x2="625.5" y2="336.5"/>
<line x1="626.5" y1="322.8" x2="626.5" y2="336.0"/>
<line x1="627.5" y1="324.4" x2="627.5" y2="344.3"/>
<line x1="628.5" y1="324.0" x2="628.5" y2="336.8"/>
<line x1="629.5" y1="324.6" x2="629.5" y2="339.0"/>
<line x1="630.5" y1="323.7" x2="630.5" y2="337.5"/>
<line x1="631.5" y1="324.1" x2="631.5" y2="335.9"/>
<line x1="632.5" y1="325.6" x2="632.5" y2="342.9"/>
<line x1="633.5" y1="324.5" x2="633.5" y2="339.3"/>
<line x1="634.5" y1="324.3" x2="634.5" y2="339.4"/>
<line x1="635.5" y1="320.9" x2="635.5" y2="340.0"/>
<line x1="636.5" y1="320.7" x2="636.5" y2="344.9"/>
<line x1="637.5" y1="317.7" x2="637.5" y2="340.5"/>
<line x1="638.5" y1="321.2" x2="638.5" y2="342.0"/>
<line x1="639.5" y1="325.6" x2="639.5" y2="341.6"/>
<line x1="640.5" y1="322.6" x2="640.5" y2="341.0"/>
<line x1="641.5" y1="324.6" x2="641.5" y2="338.5"/>
<line x1="642.5" y1="325.8" x2="642.5" y2="342.8"/>
<line x1="643.5" y1="325.8" x2="643.5" y2="340.7"/>
<line x1="644.5" y1="325.5" x2="644.5" y2="341.4"/>
<line x1="645.5" y1="325.6" x2="645.5" y2="342.0"/>
<line x1="646.5" y1="328.5" x2="646.5" y2="346.1"/>
<line x1="647.5" y1="327.8" x2="647.5" y2="342.0"/>
<line x1="648.5" y1="326.0" x2="648.5" y2="341.5"/>
<line x1="649.5" y1="326.9" x2="649.5" y2="343.7"/>
<line x1="650.5" y1="324.6" x2="650.5" y2="341.3"/>
<line x1="651.5" y1="324.2" x2="651.5" y2="343.1"/>
<line x1="652.5" y1="327.7" x2="652.5" y2="341.4"/>
<line x1="653.5" y1="328.1" x2="653.5" y2="343.0"/>
<line x1="654.5" y1="327.5" x2="654.5" y2="345.1"/>
<line x1="655.5" y1="326.7" x2="655.5" y2="340.7"/>
<line x1="656.5" y1="326.8" x2="656.5" y2="341.8"/>
<line x1="657.5" y1="320.9" x2="657.5" y2="340.2"/>
<line x1="658.5" y1="327.0" x2="658.5" y2="341.8"/>
<line x1="659.5" y1="327.0" x2="659.5" y2="348.7"/>
<line x1="660.5" y1="321.1" x2="660.5" y2="343.1"/>
<line x1="661.5" y1="327.9" x2="661.5" y2="340.7"/>
<line x1="662.5" y1="327.2" x2="662.5" y2="340.7"/>
<line x1="663.5" y1="327.2" x2="663.5" y2="343.1"/>
<line x1="664.5" y1="328.9" x2="664.5" y2="344.1"/>
<line x1="665.5" y1="328.4" x2="665.5" y2="339.9"/>
<line x1="666.5" y1="327.2" x2="666.5" y2="340.7"/>
<line x1="667.5" y1="325.1" x2="667.5" y2="343.2"/>
<line x1="668.5" y1="325.5" x2="668.5" y2="341.7"/>
<line x1="669.5" y1="325.1" x2="669.5" y2="339.9"/>
<line x1="670.5" y1="323.7" x2="670.5" y2="342.5"/>
<line x1="671.5" y1="325.2" x2="671.5" y2="339.6"/>
<line x1="672.5" y1="326.3" x2="672.5" y2="342.9"/>
<line x1="673.5" y1="328.9" x2="673.5" y2="343.7"/>
<line x1="674.5" y1="325.7" x2="674.5" y2="343.1"/>
<line x1="675.5" y1="326.9" x2="675.5" y2="343.2"/>
<line x1="676.5" y1="324.8" x2="676.5" y2="342.9"/>
<line x1="677.5" y1="326.5" x2="677.5" y2="341.2"/>
<line x1="678.5" y1="329.1" x2="678.5" y2="346.1"/>
<line x1="679.5" y1="329.3" x2="679.5" y2="343.7"/>
<line x1="680.5" y1="327.8" x2="680.5" y2="343.6"/>
<line x1="681.5" y1="327.3" x2="681.5" y2="339.1"/>
<line x1="682.5" y1="328.5" x2="682.5" y2="343.7"/>
<line x1="683.5" y1="325.8" x2="683.5" y2="343.4"/>
<line x1="684.5" y1="327.8" x2="684.5" y2="340.4"/>
<line x1="685.5" y1="327.5" x2="685.5" y2="340.3"/>
<line x1="686.5" y1="328.9" x2="686.5" y2="339.4"/>
<line x1="687.5" y1="325.1" x2="687.5" y2="339.8"/>
<line x1="688.5" y1="321.5" x2="688.5" y2="339.8"/>
<line x1="689.5" y1="324.3" x2="689.5" y2="336.5"/>
<line x1="690.5" y1="324.2" x2="690.5" y2="335.4"/>
<line x1="691.5" y1="325.3" x2="691.5" y2="337.9"/>
<line x1="692.5" y1="325.2" x2="692.5" y2="337.3"/>
<line x1="693.5" y1="319.7" x2="693.5" y2="337.3"/>
<line x1="694.5" y1="321.3" x2="694.5" y2="341.7"/>
<line x1="695.5" y1="327.9" x2="695.5" y2="339.6"/>
<line x1="696.5" y1="325.5" x2="696.5" y2="347.4"/>
<line x1="697.5" y1="325.2" x2="697.5" y2="339.3"/>
<line x1="698.5" y1="324.9" x2="698.5" y2="340.9"/>
<line x1="699.5" y1="325.4" x2="699.5" y2="340.1"/>
<line x1="700.5" y1="325.6" x2="700.5" y2="340.8"/>
<line x1="701.5" y1="327.6" x2="701.5" y2="343.6"/>
<line x1="702.5" y1="328.0" x2="702.5" y2="343.3"/>
<line x1="703.5" y1="328.1" x2="703.5" y2="347.5"/>
<line x1="704.5" y1="324.5" x2="704.5" y2="343.8"/>
<line x1="376.5" y1="238.2" x2="376.5" y2="298.5"/>
<line x1="377.5" y1="238.2" x2="377.5" y2="299.5"/>
<line x1="385.5" y1="239.0" x2="385.5" y2="297.8"/>
<line x1="393.5" y1="255.9" x2="393.5" y2="303.0"/>
<line x1="401.5" y1="262.0" x2="401.5" y2="288.0"/>
<line x1="436.5" y1="261.9" x2="436.5" y2="308.7"/>
<line x1="437.5" y1="255.9" x2="437.5" y2="309.1"/>
<line x1="443.5" y1="219.0" x2="443.5" y2="308.3"/>
<line x1="449.5" y1="212.0" x2="449.5" y2="303.5"/>
<line x1="450.5" y1="234.8" x2="450.5" y2="304.5"/>
<line x1="455.5" y1="228.9" x2="455.5" y2="309.8"/>
<line x1="456.5" y1="225.1" x2="456.5" y2="310.2"/>
<line x1="691.5" y1="288.8" x2="691.5" y2="335.0"/>
<line x1="423.5" y1="289.0" x2="423.5" y2="309.5"/>
<line x1="430.5" y1="274.3" x2="430.5" y2="305.0"/>
<line x1="461.5" y1="277.9" x2="461.5" y2="308.3"/>
<line x1="467.5" y1="289.8" x2="467.5" y2="311.1"/>
<line x1="473.5" y1="289.0" x2="473.5" y2="310.4"/>
<line x1="493.5" y1="280.0" x2="493.5" y2="304.5"/>
<line x1="494.5" y1="276.3" x2="494.5" y2="303.5"/>
<line x1="495.5" y1="278.5" x2="495.5" y2="304.2"/>
<line x1="514.5" y1="293.0" x2="514.5" y2="312.5"/>
<line x1="521.5" y1="294.0" x2="521.5" y2="314.0"/>
<line x1="536.5" y1="292.0" x2="536.5" y2="322.2"/>
<line x1="540.5" y1="295.0" x2="540.5" y2="325.2"/>
<line x1="543.5" y1="290.0" x2="543.5" y2="317.2"/>
<line x1="544.5" y1="287.0" x2="544.5" y2="315.8"/>
<line x1="545.5" y1="287.0" x2="545.5" y2="316.8"/>
<line x1="547.5" y1="294.0" x2="547.5" y2="323.2"/>
<line x1="551.5" y1="301.0" x2="551.5" y2="325.0"/>
<line x1="566.5" y1="305.0" x2="566.5" y2="325.5"/>
<line x1="574.5" y1="313.0" x2="574.5" y2="330.0"/>
<line x1="308.5" y1="264.7" x2="308.5" y2="296.7"/>
<line x1="312.5" y1="274.3" x2="312.5" y2="299.4"/>
<line x1="325.5" y1="285.0" x2="325.5" y2="306.0"/>
<line x1="348.5" y1="282.0" x2="348.5" y2="308.4"/>
<line x1="358.5" y1="269.4" x2="358.5" y2="308.5"/>
<line x1="370.5" y1="267.3" x2="370.5" y2="295.5"/>
<line x1="293.5" y1="288.4" x2="293.5" y2="308.0"/>
<line x1="320.5" y1="283.5" x2="320.5" y2="306.9"/>
<line x1="319.5" y1="288.0" x2="319.5" y2="306.7"/>
<line x1="341.5" y1="288.4" x2="341.5" y2="305.1"/>
<line x1="337.5" y1="294.8" x2="337.5" y2="306.4"/>
<line x1="354.5" y1="293.4" x2="354.5" y2="307.9"/>
<line x1="302.5" y1="273.0" x2="302.5" y2="295.3"/>
<line x1="303.5" y1="273.0" x2="303.5" y2="295.3"/>
<line x1="187.5" y1="251.0" x2="187.5" y2="297.0"/>
<line x1="188.5" y1="250.0" x2="188.5" y2="297.0"/>
<line x1="212.5" y1="219.0" x2="212.5" y2="294.7"/>
<line x1="213.5" y1="224.0" x2="213.5" y2="293.6"/>
<line x1="233.5" y1="185.0" x2="233.5" y2="285.5"/>
<line x1="234.5" y1="133.0" x2="234.5" y2="286.0"/>
<line x1="235.5" y1="241.0" x2="235.5" y2="289.8"/>
<line x1="251.5" y1="182.0" x2="251.5" y2="293.0"/>
<line x1="252.5" y1="118.0" x2="252.5" y2="294.4"/>
<line x1="253.5" y1="217.0" x2="253.5" y2="295.7"/>
<line x1="268.5" y1="123.0" x2="268.5" y2="289.2"/>
<line x1="269.5" y1="153.0" x2="269.5" y2="291.3"/>
<line x1="283.5" y1="219.0" x2="283.5" y2="298.0"/>
<line x1="284.5" y1="207.0" x2="284.5" y2="304.7"/>
<line x1="298.5" y1="239.0" x2="298.5" y2="295.0"/>
<line x1="299.5" y1="258.5" x2="299.5" y2="295.1"/>
<line x1="368.5" y1="245.0" x2="368.5" y2="298.3"/>
<line x1="278.5" y1="269.6" x2="278.5" y2="298.3"/>
<line x1="219.5" y1="268.2" x2="219.5" y2="282.6"/>
<line x1="194.5" y1="273.2" x2="194.5" y2="284.4"/>
</g>
<g fill="none" stroke="#000" stroke-width="1" shape-rendering="crispEdges">
<path d="M248.5,105.5 L256.5,105.5 L252.5,117.5 Z"/>
<path d="M373.5,224.5 L381.5,224.5 L377.5,236.5 Z"/>
<path d="M445.5,199.5 L453.5,199.5 L449.5,211.5 Z"/>
<path d="M497.5,277.5 L505.5,277.5 L501.5,289.5 Z"/>
<path d="M536.5,281.5 L544.5,281.5 L540.5,293.5 Z"/>
</g>
<g font-family="Liberation Sans, sans-serif" font-size="12.5px" style="white-space:pre">
<text x="226.50" y="12" textLength="38.00" lengthAdjust="spacingAndGlyphs" fill="#000" text-anchor="start">MW180</text>
<text x="267.50" y="12" textLength="42.00" lengthAdjust="spacingAndGlyphs" fill="#000" text-anchor="start">nonlinear</text>
<text x="313.90" y="12" textLength="5.60" lengthAdjust="spacingAndGlyphs" fill="#000" text-anchor="start">3</text>
<text x="322.30" y="12" textLength="20.70" lengthAdjust="spacingAndGlyphs" fill="#000" text-anchor="start">tone</text>
<text x="346.50" y="12" textLength="42.00" lengthAdjust="spacingAndGlyphs" fill="#000" text-anchor="start">distortion</text>
<text x="391.50" y="12" textLength="41.70" lengthAdjust="spacingAndGlyphs" fill="#000" text-anchor="start">centered</text>
<text x="436.50" y="12" textLength="8.00" lengthAdjust="spacingAndGlyphs" fill="#000" text-anchor="start">at</text>
<text x="448.50" y="12" textLength="18.50" lengthAdjust="spacingAndGlyphs" fill="#000" text-anchor="start">800</text>
<text x="470.50" y="12" textLength="12.00" lengthAdjust="spacingAndGlyphs" fill="#000" text-anchor="start">hz.</text>
<text x="2.30" y="30" textLength="30.80" lengthAdjust="spacingAndGlyphs" fill="#0000ff" text-anchor="start">Liberty</text>
<text x="36.60" y="30" textLength="33.00" lengthAdjust="spacingAndGlyphs" fill="#0000ff" text-anchor="start">-praxis-</text>
<text x="75.50" y="30" textLength="33.60" lengthAdjust="spacingAndGlyphs" fill="#000" text-anchor="start">mw180</text>
<text x="112.70" y="30" textLength="6.80" lengthAdjust="spacingAndGlyphs" fill="#000" text-anchor="start">sl</text>
<text x="122.50" y="30" textLength="42.00" lengthAdjust="spacingAndGlyphs" fill="#000" text-anchor="start">nonlinear</text>
<text x="167.70" y="30" textLength="18.80" lengthAdjust="spacingAndGlyphs" fill="#000" text-anchor="start">800</text>
<text x="190.00" y="30" textLength="10.80" lengthAdjust="spacingAndGlyphs" fill="#000" text-anchor="start">hz</text>
<text x="203.20" y="30" textLength="23.30" lengthAdjust="spacingAndGlyphs" fill="#000" text-anchor="start">94dB</text>
<text x="231.60" y="30" textLength="48.90" lengthAdjust="spacingAndGlyphs" fill="#000" text-anchor="start">pt25m.px2</text>
<text x="561.50" y="30" textLength="19.60" lengthAdjust="spacingAndGlyphs" fill="#000" text-anchor="start">acq:</text>
<text x="584.90" y="30" textLength="53.10" lengthAdjust="spacingAndGlyphs" fill="#000" text-anchor="start">5/28/2005</text>
<text x="640.90" y="30" textLength="40.60" lengthAdjust="spacingAndGlyphs" fill="#000" text-anchor="start">11:40:46</text>
<text x="684.40" y="30" textLength="16.20" lengthAdjust="spacingAndGlyphs" fill="#000" text-anchor="start">AM</text>
<text x="332.50" y="30" textLength="45.50" lengthAdjust="spacingAndGlyphs" fill="#000" text-anchor="start">Spectrum</text>
<text x="5.50" y="64" textLength="18.00" lengthAdjust="spacingAndGlyphs" fill="#0a386c" text-anchor="start">200</text>
<text x="169.50" y="64" textLength="18.00" lengthAdjust="spacingAndGlyphs" fill="#0a386c" text-anchor="start">500</text>
<text x="293.50" y="64" textLength="12.00" lengthAdjust="spacingAndGlyphs" fill="#0a386c" text-anchor="start">1k</text>
<text x="418.50" y="64" textLength="12.00" lengthAdjust="spacingAndGlyphs" fill="#0a386c" text-anchor="start">2k</text>
<text x="584.50" y="64" textLength="12.00" lengthAdjust="spacingAndGlyphs" fill="#0a386c" text-anchor="start">5k</text>
<text x="6.50" y="91" textLength="18.00" lengthAdjust="spacingAndGlyphs" fill="#000" text-anchor="start">114</text>
<text x="6.50" y="132" textLength="45.00" lengthAdjust="spacingAndGlyphs" fill="#000" text-anchor="start">94dBSPL</text>
<text x="6.50" y="173" textLength="12.00" lengthAdjust="spacingAndGlyphs" fill="#000" text-anchor="start">74</text>
<text x="6.50" y="214" textLength="12.00" lengthAdjust="spacingAndGlyphs" fill="#000" text-anchor="start">54</text>
<text x="6.50" y="254" textLength="12.00" lengthAdjust="spacingAndGlyphs" fill="#000" text-anchor="start">34</text>
<text x="6.50" y="295" textLength="12.00" lengthAdjust="spacingAndGlyphs" fill="#000" text-anchor="start">14</text>
<text x="6.50" y="336" textLength="9.00" lengthAdjust="spacingAndGlyphs" fill="#000" text-anchor="start">-6</text>
<text x="249.50" y="100" textLength="6.00" lengthAdjust="spacingAndGlyphs" fill="#000" text-anchor="start">1</text>
<text x="374.50" y="219" textLength="6.00" lengthAdjust="spacingAndGlyphs" fill="#000" text-anchor="start">2</text>
<text x="446.50" y="194" textLength="6.00" lengthAdjust="spacingAndGlyphs" fill="#000" text-anchor="start">3</text>
<text x="498.50" y="272" textLength="6.00" lengthAdjust="spacingAndGlyphs" fill="#000" text-anchor="start">4</text>
<text x="537.50" y="276" textLength="6.00" lengthAdjust="spacingAndGlyphs" fill="#000" text-anchor="start">5</text>
<text x="118.30" y="386" textLength="27.00" lengthAdjust="spacingAndGlyphs" fill="#000" text-anchor="middle">Mkr 1</text>
<text x="118.30" y="414" textLength="78.00" lengthAdjust="spacingAndGlyphs" fill="#000" text-anchor="middle">94.25986dBSPL</text>
<text x="96.40" y="397" textLength="6.60" lengthAdjust="spacingAndGlyphs" fill="#000" text-anchor="start">~</text>
<text x="103.30" y="400" textLength="31.40" lengthAdjust="spacingAndGlyphs" fill="#000" text-anchor="start">800Hz</text>
<text x="134.80" y="397" textLength="6.60" lengthAdjust="spacingAndGlyphs" fill="#000" text-anchor="start">~</text>
<text x="236.40" y="386" textLength="27.00" lengthAdjust="spacingAndGlyphs" fill="#000" text-anchor="middle">Mkr 2</text>
<text x="236.40" y="414" textLength="78.00" lengthAdjust="spacingAndGlyphs" fill="#000" text-anchor="middle">36.11487dBSPL</text>
<text x="212.30" y="397" textLength="6.60" lengthAdjust="spacingAndGlyphs" fill="#000" text-anchor="start">~</text>
<text x="219.20" y="400" textLength="34.40" lengthAdjust="spacingAndGlyphs" fill="#000" text-anchor="start">1.6kHz</text>
<text x="253.70" y="397" textLength="6.60" lengthAdjust="spacingAndGlyphs" fill="#000" text-anchor="start">~</text>
<text x="354.40" y="386" textLength="27.00" lengthAdjust="spacingAndGlyphs" fill="#000" text-anchor="middle">Mkr 3</text>
<text x="354.40" y="414" textLength="78.00" lengthAdjust="spacingAndGlyphs" fill="#000" text-anchor="middle">48.56168dBSPL</text>
<text x="330.00" y="397" textLength="6.60" lengthAdjust="spacingAndGlyphs" fill="#000" text-anchor="start">~</text>
<text x="336.90" y="400" textLength="35.00" lengthAdjust="spacingAndGlyphs" fill="#000" text-anchor="start">2.4kHz</text>
<text x="372.00" y="397" textLength="6.60" lengthAdjust="spacingAndGlyphs" fill="#000" text-anchor="start">~</text>
<text x="472.60" y="386" textLength="27.00" lengthAdjust="spacingAndGlyphs" fill="#000" text-anchor="middle">Mkr 4</text>
<text x="472.60" y="414" textLength="78.00" lengthAdjust="spacingAndGlyphs" fill="#000" text-anchor="middle">10.10657dBSPL</text>
<text x="447.90" y="397" textLength="6.60" lengthAdjust="spacingAndGlyphs" fill="#000" text-anchor="start">~</text>
<text x="454.80" y="400" textLength="35.30" lengthAdjust="spacingAndGlyphs" fill="#000" text-anchor="start">3.2kHz</text>
<text x="490.20" y="397" textLength="6.60" lengthAdjust="spacingAndGlyphs" fill="#000" text-anchor="start">~</text>
<text x="590.50" y="386" textLength="27.00" lengthAdjust="spacingAndGlyphs" fill="#000" text-anchor="middle">Mkr 5</text>
<text x="590.50" y="414" textLength="72.00" lengthAdjust="spacingAndGlyphs" fill="#000" text-anchor="middle">8.22736dBSPL</text>
<text x="571.10" y="397" textLength="6.60" lengthAdjust="spacingAndGlyphs" fill="#000" text-anchor="start">~</text>
<text x="578.00" y="400" textLength="26.30" lengthAdjust="spacingAndGlyphs" fill="#000" text-anchor="start">4kHz</text>
<text x="604.40" y="397" textLength="6.60" lengthAdjust="spacingAndGlyphs" fill="#000" text-anchor="start">~</text>
</g>
<rect x="329.5" y="18.5" width="50" height="14" fill="none" stroke="#000" stroke-width="1" shape-rendering="crispEdges"/>
</svg>
</body></html>
